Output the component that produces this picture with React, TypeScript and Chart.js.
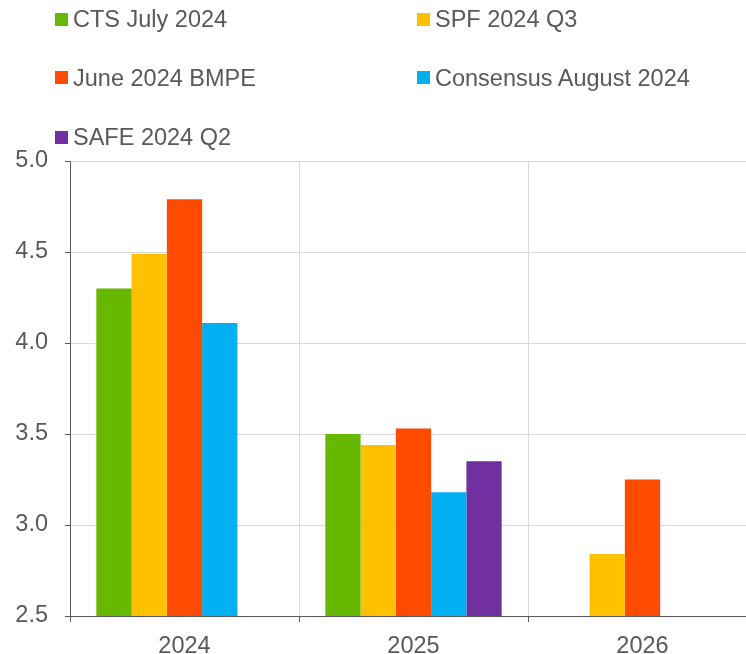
import React, { useEffect, useRef } from "react";
import { Chart, registerables } from "chart.js";

Chart.register(...registerables);

const categories = ["2024", "2025", "2026"];
const seriesNames = [
  "CTS July 2024",
  "SPF 2024 Q3",
  "June 2024 BMPE",
  "Consensus August 2024",
  "SAFE 2024 Q2",
];
const seriesColors = ["#66b800", "#ffc000", "#ff4b00", "#00b0f0", "#7030a0"];
const ctsJuly2024 = [4.3, 3.5, null];
const spf2024Q3 = [4.49, 3.44, 2.84];
const june2024Bmpe = [4.79, 3.53, 3.25];
const consensusAug2024 = [4.11, 3.18, null];
const safe2024Q2 = [null, 3.35, null];
const seriesValues = [ctsJuly2024, spf2024Q3, june2024Bmpe, consensusAug2024, safe2024Q2];
const yTicks = [2.5, 3.0, 3.5, 4.0, 4.5, 5.0];

const FONT = "Arial, 'Liberation Sans', sans-serif";
const TEXT = "#595959";

// legend layout: [left, centerY]
const legendPos: [number, number][] = [
  [55, 19],
  [417, 19],
  [55, 77.5],
  [417, 77.5],
  [55, 137],
];

export default function App() {
  const ref = useRef<HTMLCanvasElement | null>(null);
  useEffect(() => {
    document.body.style.margin = "0";
    const ctx = ref.current!;
    const chart = new Chart(ctx, {
      type: "bar",
      data: {
        labels: categories,
        datasets: seriesNames.map((name, i) => ({
          label: name,
          data: seriesValues[i] as (number | null)[],
          backgroundColor: seriesColors[i],
          borderWidth: 0,
          barPercentage: 1,
          categoryPercentage: 0.77,
        })),
      },
      options: {
        animation: false,
        responsive: false,
        devicePixelRatio: 1,
        layout: { padding: { top: 161, left: 0, right: 3, bottom: 0 } },
        plugins: { legend: { display: false }, tooltip: { enabled: false } },
        scales: {
          x: {
            grid: {
              color: "#d9d9d9",
              tickColor: TEXT,
              tickLength: 6,
              offset: true,
            },
            border: { color: TEXT, width: 1 },
            ticks: { color: TEXT, font: { family: FONT, size: 23.5 }, padding: 10 },
            afterFit: (s: any) => {
              s.height = 38;
            },
          },
          y: {
            min: 2.5,
            max: 5,
            afterBuildTicks: (s: any) => {
              s.ticks = yTicks.map((v) => ({ value: v }));
            },
            grid: { color: "#d9d9d9", tickColor: TEXT, tickLength: 5 },
            border: { color: TEXT, width: 1 },
            ticks: {
              color: TEXT,
              font: { family: FONT, size: 23.5 },
              padding: 17,
              callback: (v: any) => Number(v).toFixed(1),
            },
            afterFit: (s: any) => {
              s.width = 70;
            },
          },
        },
      },
    });
    return () => chart.destroy();
  }, []);

  return (
    <div
      style={{
        position: "fixed",
        left: 0,
        top: 0,
        width: 746,
        height: 654,
        overflow: "hidden",
        background: "#fff",
      }}
    >
      <canvas ref={ref} width={760} height={654} style={{ position: "absolute", left: 0, top: 0 }} />
      {seriesNames.map((name, i) => (
        <div
          key={name}
          style={{
            position: "absolute",
            left: legendPos[i][0],
            top: legendPos[i][1] - 15,
            height: 30,
            display: "flex",
            alignItems: "center",
            whiteSpace: "nowrap",
          }}
        >
          <div style={{ width: 13, height: 13, background: seriesColors[i], marginRight: 5 }} />
          <span
            style={{
              fontFamily: FONT,
              fontSize: 23.5,
              lineHeight: "30px",
              color: TEXT,
            }}
          >
            {name}
          </span>
        </div>
      ))}
    </div>
  );
}
